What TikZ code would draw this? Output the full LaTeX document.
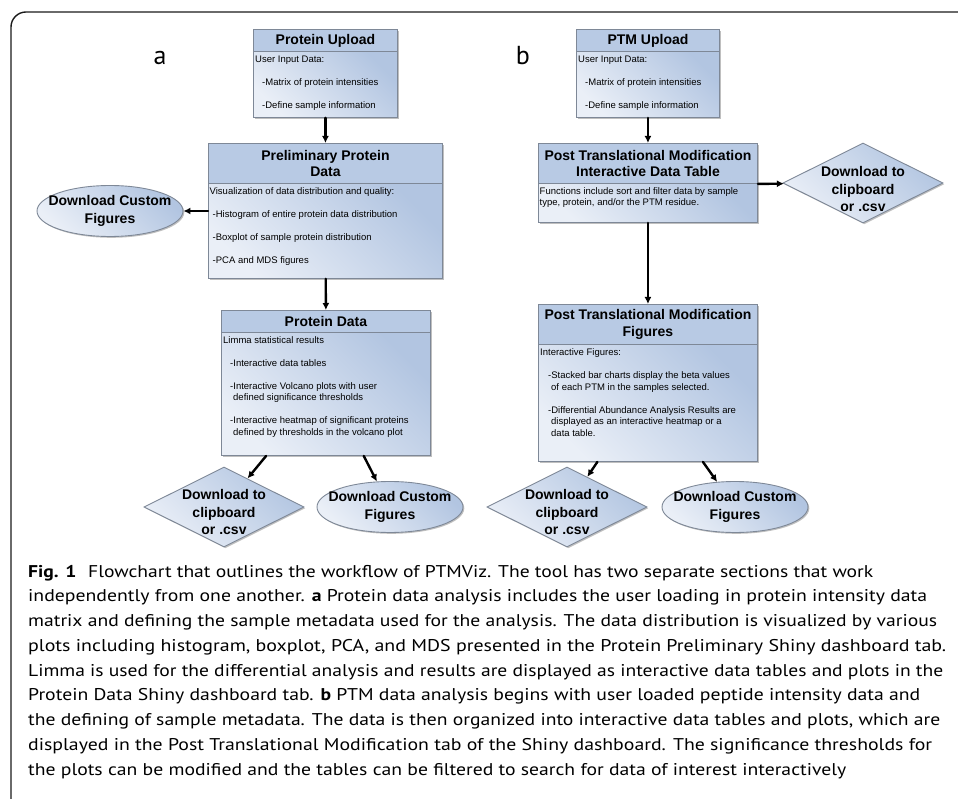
\documentclass[tikz,border=0pt]{standalone}
\usepackage{fontspec}
\usepackage{graphicx}
\newfontfamily\diafont{Liberation Sans}
\newfontfamily\capfont{PT Sans}
\usetikzlibrary{arrows.meta,calc,shapes.geometric,shadows}

\definecolor{headblue}{HTML}{B8CAE4}
\definecolor{bodylight}{HTML}{EAEFF7}
\definecolor{bodydark}{HTML}{B2C5E1}
\definecolor{boxline}{HTML}{7E8897}
\definecolor{framegray}{HTML}{1A1A1A}

\tikzset{
  boxshadow/.style={drop shadow={shadow xshift=1.3pt, shadow yshift=-1.3pt, fill=black, opacity=0.25}},
  boxhead/.style={draw=boxline, line width=0.9pt, fill=headblue, anchor=north west, inner sep=0pt,
    align=center, boxshadow, font=\diafont\bfseries\fontsize{14}{16.5}\selectfont},
  boxbody/.style={draw=boxline, line width=0.9pt, top color=bodylight, bottom color=bodydark,
    shading angle=135, anchor=north west, inner sep=0pt, boxshadow},
  bodytext/.style={anchor=north west, align=left, inner sep=0pt,
    font=\diafont\fontsize{9.5}{11.5}\selectfont},
  dlfig/.style={ellipse, draw=boxline, line width=0.9pt, top color=bodylight, bottom color=bodydark,
    shading angle=135, minimum width=146pt, minimum height=51pt, inner sep=0pt, boxshadow},
  dlcsv/.style={diamond, draw=boxline, line width=0.9pt, top color=bodylight, bottom color=bodydark,
    shading angle=135, minimum width=160pt, minimum height=80pt, inner sep=0pt, boxshadow},
  dltext/.style={align=center, inner sep=0pt, font=\diafont\bfseries\fontsize{14}{17.5}\selectfont},
  flow/.style={-{Latex[length=7pt,width=7pt]}, line width=2.4pt},
  captext/.style={anchor=base west, inner sep=0pt, font=\capfont\fontsize{17}{20}\selectfont},
  panel/.style={anchor=base, inner sep=0pt, font=\capfont\fontsize{26}{26}\selectfont},
}

\begin{document}
\begin{tikzpicture}[x=1pt, y=-1pt, line cap=round]
  \useasboundingbox (0,0) rectangle (958,799);
  \draw[framegray, line width=1.4pt, rounded corners=15pt] (11,799) -- (11,12) -- (958,12);

  \node[panel] (lbla) at (160,65) {a};
  \node[panel] (lblb) at (523,65) {b};

  % protein side
  \node[boxhead, minimum width=144pt, minimum height=22pt] (pu-head) at (253,29) {Protein Upload};
  \node[boxbody, minimum width=144pt, minimum height=66pt] (pu-body) at (253,51) {};
  \node[bodytext] (pu-text) at ($(pu-body.north west)+(2,4.5)$)
    {User Input Data:\\[11.5pt]
     \hspace*{7pt}-Matrix of protein intensities\\[11.5pt]
     \hspace*{7pt}-Define sample information};

  \node[boxhead, minimum width=234pt, minimum height=40pt] (pp-head) at (208,143) {Preliminary Protein\\Data};
  \node[boxbody, minimum width=234pt, minimum height=95pt] (pp-body) at (208,183) {};
  \node[bodytext] (pp-text) at ($(pp-body.north west)+(1.5,4.5)$)
    {Visualization of data distribution and quality:\\[11.5pt]
     \hspace*{3pt}-Histogram of entire protein data distribution\\[11.5pt]
     \hspace*{3pt}-Boxplot of sample protein distribution\\[11.5pt]
     \hspace*{3pt}-PCA and MDS figures};

  \node[boxhead, minimum width=209pt, minimum height=22pt] (pd-head) at (221,310) {Protein Data};
  \node[boxbody, minimum width=209pt, minimum height=123pt] (pd-body) at (221,332) {};
  \node[bodytext] (pd-text) at ($(pd-body.north west)+(2,4)$)
    {Limma statistical results\\[11.5pt]
     \hspace*{7pt}-Interactive data tables\\[11.5pt]
     \hspace*{7pt}-Interactive Volcano plots with user\\
     \hspace*{10pt}defined significance thresholds\\[11.5pt]
     \hspace*{7pt}-Interactive heatmap of significant proteins\\
     \hspace*{10pt}defined by thresholds in the volcano plot};

  \node[dlfig] (figA) at (110,211) {};
  \node[dltext] (figA-txt) at (figA) {Download Custom\\Figures};
  \node[dlcsv] (csvB) at (224,507) {};
  \node[dltext] (csvB-txt) at ($(csvB)+(0,5)$) {Download to\\clipboard\\or .csv};
  \node[dlfig] (figB) at (390,507) {};
  \node[dltext] (figB-txt) at (figB) {Download Custom\\Figures};

  % PTM side
  \node[boxhead, minimum width=143pt, minimum height=22pt] (tu-head) at (576,29) {PTM Upload};
  \node[boxbody, minimum width=143pt, minimum height=66pt] (tu-body) at (576,51) {};
  \node[bodytext] (tu-text) at ($(tu-body.north west)+(2,4.5)$)
    {User Input Data:\\[11.5pt]
     \hspace*{7pt}-Matrix of protein intensities\\[11.5pt]
     \hspace*{7pt}-Define sample information};

  \node[boxhead, minimum width=219pt, minimum height=40pt] (tt-head) at (538,143)
    {Post Translational Modification\\Interactive Data Table};
  \node[boxbody, minimum width=219pt, minimum height=39pt] (tt-body) at (538,183) {};
  \node[bodytext, font=\diafont\fontsize{9.5}{10.7}\selectfont] (tt-text) at ($(tt-body.north west)+(1.5,4.5)$)
    {Functions include sort and filter data by sample\\
     type, protein, and/or the PTM residue.};

  \node[boxhead, minimum width=219pt, minimum height=40pt] (tf-head) at (538,304)
    {Post Translational Modification\\Figures};
  \node[boxbody, minimum width=219pt, minimum height=117pt] (tf-body) at (538,344) {};
  \node[bodytext] (tf-text) at ($(tf-body.north west)+(2,4.5)$)
    {Interactive Figures:\\[11.5pt]
     \hspace*{8pt}-Stacked bar charts display the beta values\\
     \hspace*{11pt}of each PTM in the samples selected.\\[11.5pt]
     \hspace*{8pt}-Differential Abundance Analysis Results are\\
     \hspace*{11pt}displayed as an interactive heatmap or a\\
     \hspace*{11pt}data table.};

  \node[dlcsv] (csvC) at (863,183) {};
  \node[dltext] (csvC-txt) at ($(csvC)+(0,6)$) {Download to\\clipboard\\or .csv};
  \node[dlcsv] (csvD) at (567,507) {};
  \node[dltext] (csvD-txt) at ($(csvD)+(0,5)$) {Download to\\clipboard\\or .csv};
  \node[dlfig] (figE) at (735,507) {};
  \node[dltext] (figE-txt) at (figE) {Download Custom\\Figures};

  % connectors
  \draw[flow] (pu-body) -- (pp-head);
  \draw[flow] (pp-body.west |- figA) -- (figA);
  \draw[flow] (pp-body) -- (pd-head);
  \draw[flow] ($(pd-body.south west)!0.215!(pd-body.south east)$) -- (csvB);
  \draw[flow] ($(pd-body.south west)!0.68!(pd-body.south east)$) -- (figB);
  \draw[flow] (tu-body) -- (tt-head);
  \draw[flow] (tt-head.south east) -- (csvC);
  \draw[flow] (tt-body) -- (tf-head);
  \draw[flow] ($(tf-body.south west)!0.27!(tf-body.south east)$) -- (csvD);
  \draw[flow] ($(tf-body.south west)!0.75!(tf-body.south east)$) -- (figE);

  % caption, each line stretched to its printed width
  \foreach \capw/\capline [count=\i] in {
    845/{\textbf{Fig. 1}\hspace{0.6em}Flowchart that outlines the workflow of PTMViz. The tool has two separate sections that work},
    899/{independently from one another. \textbf{a} Protein data analysis includes the user loading in protein intensity data},
    909/{matrix and defining the sample metadata used for the analysis. The data distribution is visualized by various},
    918/{plots including histogram, boxplot, PCA, and MDS presented in the Protein Preliminary Shiny dashboard tab.},
    915/{Limma is used for the differential analysis and results are displayed as interactive data tables and plots in the},
    892/{Protein Data Shiny dashboard tab. \textbf{b} PTM data analysis begins with user loaded peptide intensity data and},
    912/{the defining of sample metadata. The data is then organized into interactive data tables and plots, which are},
    904/{displayed in the Post Translational Modification tab of the Shiny dashboard. The significance thresholds for},
    818/{the plots can be modified and the tables can be filtered to search for data of interest interactively}}
    \node[captext] (cap\i) at (28, {577+24.75*(\i-1)}) {\resizebox{\capw pt}{\height}{\capline}};
\end{tikzpicture}
\end{document}
